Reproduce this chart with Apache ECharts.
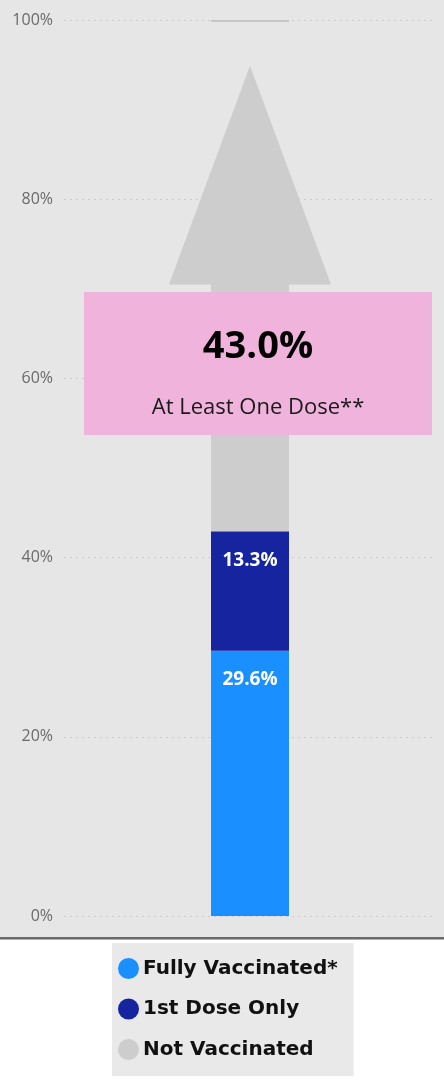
<!DOCTYPE html>
<html>
<head>
<meta charset="utf-8">
<style>
  html, body { margin: 0; padding: 0; background: #ffffff; }
  #chart { width: 444px; height: 1081px; }
</style>
<script src="https://cdn.jsdelivr.net/npm/echarts@6/dist/echarts.min.js"></script>
</head>
<body>
<div id="chart"></div>
<script>
// Share of population by vaccination status (percent)
const categories = ['Residents'];
const fullyVaccinated = [29.6];
const firstDoseOnly = [13.3];
const notVaccinated = [57.0];
const atLeastOneDose = [43.0];
const seriesNames = ['Fully Vaccinated*', '1st Dose Only', 'Not Vaccinated'];
const yTicks = [0, 20, 40, 60, 80, 100];

const COLORS = { fully: '#1a8fff', first: '#16249f', not: '#cdcdcd' };
const BAR_WIDTH = 78;
const HEAD_HALF_WIDTH = 81;
// arrow geometry as fractions of the unvaccinated span
const HEAD_BASE_FRAC = 0.484;
const TIP_FRAC = 0.912;

const chart = echarts.init(document.getElementById('chart'), null, { renderer: 'canvas' });

function pct(v) { return v.toFixed(1) + '%'; }

const barLabel = {
  show: true, position: 'insideTop', distance: 19, color: '#ffffff',
  fontSize: 19, fontWeight: 'bold', fontFamily: '"Open Sans", sans-serif',
  formatter: p => pct(p.value)
};

const option = {
  backgroundColor: '#ffffff',
  animation: false,
  graphic: [
    { type: 'rect', z: -10, silent: true, shape: { x: 0, y: 0, width: 444, height: 937 }, style: { fill: '#e6e6e6' } },
    { type: 'rect', z: -9, silent: true, shape: { x: 0, y: 937, width: 444, height: 2 }, style: { fill: '#6a6a6a' } },
    { type: 'rect', z: -9, silent: true, shape: { x: 0, y: 939, width: 444, height: 1 }, style: { fill: '#b0b0b0' } },
    // summary box laid over the arrow
    { type: 'rect', z: 200, silent: true, shape: { x: 84, y: 292, width: 348, height: 143 }, style: { fill: '#f0b3dc' } },
    {
      type: 'text', z: 201, silent: true, x: 258, y: 347,
      style: {
        text: pct(atLeastOneDose[0]), fill: '#000000', align: 'center', verticalAlign: 'middle',
        font: 'bold 38px "Open Sans", sans-serif'
      }
    },
    {
      type: 'text', z: 201, silent: true, x: 258, y: 408,
      style: {
        text: 'At Least One Dose**', fill: '#1a1a1a', align: 'center', verticalAlign: 'middle',
        font: '22px "Open Sans", sans-serif'
      }
    }
  ],
  legend: {
    orient: 'vertical',
    left: 112, top: 943,
    padding: [15, 16, 16, 6],
    backgroundColor: '#e9e9e9',
    itemWidth: 21, itemHeight: 21, itemGap: 19.5,
    icon: 'circle',
    selectedMode: false,
    data: seriesNames,
    textStyle: { color: '#111111', fontFamily: '"DejaVu Sans", sans-serif', fontWeight: 'bold', fontSize: 20, padding: [0, 0, 0, -1] }
  },
  grid: { left: 64, right: 8, top: 20, bottom: 165 },
  xAxis: {
    type: 'category',
    data: categories,
    axisLine: { show: false }, axisTick: { show: false }, axisLabel: { show: false }
  },
  yAxis: {
    type: 'value',
    min: yTicks[0], max: yTicks[yTicks.length - 1], interval: 20,
    axisLine: { show: false }, axisTick: { show: false },
    axisLabel: {
      formatter: '{value}%', color: '#6a6a6a', fontSize: 16, margin: 11,
      fontFamily: '"Open Sans", sans-serif'
    },
    splitLine: { lineStyle: { color: '#cccccc', type: [2, 4], width: 1 } }
  },
  series: [
    {
      name: seriesNames[0], type: 'bar', stack: 'pop', barWidth: BAR_WIDTH, z: 5,
      data: fullyVaccinated,
      itemStyle: { color: COLORS.fully },
      label: barLabel
    },
    {
      name: seriesNames[1], type: 'bar', stack: 'pop', barWidth: BAR_WIDTH, z: 5,
      data: firstDoseOnly,
      itemStyle: { color: COLORS.first },
      label: barLabel
    },
    {
      // unvaccinated share drawn as an upward arrow on top of the stack
      name: seriesNames[2], type: 'custom', z: 4,
      itemStyle: { color: COLORS.not },
      data: notVaccinated.map((v, i) => [i, fullyVaccinated[i] + firstDoseOnly[i], v]),
      renderItem: function (params, api) {
        const idx = api.value(0);
        const base = api.value(1);
        const span = api.value(2);
        const top = base + span;
        const pBase = api.coord([idx, base]);
        const pHead = api.coord([idx, base + span * HEAD_BASE_FRAC]);
        const pTip = api.coord([idx, base + span * TIP_FRAC]);
        const pTop = api.coord([idx, top]);
        const cx = pBase[0];
        const hw = BAR_WIDTH / 2;
        const pts = [
          [cx - hw, pBase[1]], [cx + hw, pBase[1]],
          [cx + hw, pHead[1]], [cx + HEAD_HALF_WIDTH, pHead[1]],
          [cx, pTip[1]],
          [cx - HEAD_HALF_WIDTH, pHead[1]], [cx - hw, pHead[1]]
        ];
        return {
          type: 'group',
          children: [
            { type: 'polygon', shape: { points: pts }, style: { fill: COLORS.not } },
            {
              type: 'line',
              shape: { x1: cx - hw, y1: pTop[1], x2: cx + hw, y2: pTop[1] },
              style: { stroke: '#c6c6c6', lineWidth: 2 }
            }
          ]
        };
      }
    }
  ]
};

chart.setOption(option);
</script>
</body>
</html>
